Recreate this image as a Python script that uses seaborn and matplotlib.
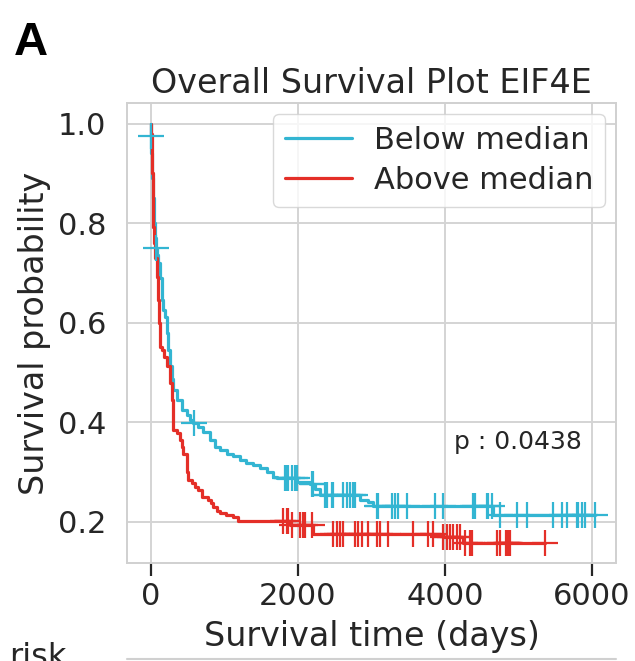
import numpy as np
import pandas as pd
import matplotlib
matplotlib.use("Agg")
import matplotlib.pyplot as plt
import seaborn as sns
from matplotlib.lines import Line2D

# ---------------- data ----------------
groups = ["Below median", "Above median"]
colors = ["#33b5d2", "#e42f28"]

blue_time = [0, 3, 10, 20, 30, 45, 60, 70, 85, 104, 126, 149, 171, 194, 217, 240,
             262, 285, 308, 353, 421, 489, 540, 580, 650, 715, 806, 874, 942, 1033,
             1123, 1214, 1300, 1395, 1486, 1577, 1667, 1713, 1990, 2160, 2230, 2302,
             2846, 2960, 3025, 4658, 6041]
blue_surv = [1.0, 0.976, 0.94, 0.89, 0.85, 0.80, 0.77, 0.75, 0.735, 0.72, 0.69, 0.646,
             0.626, 0.612, 0.579, 0.545, 0.512, 0.487, 0.465, 0.445, 0.425, 0.414, 0.405,
             0.399, 0.39, 0.381, 0.364, 0.351, 0.344, 0.337, 0.331, 0.324, 0.318, 0.314,
             0.307, 0.300, 0.290, 0.287, 0.280, 0.275, 0.265, 0.254, 0.244, 0.240, 0.2316,
             0.2135, 0.2135]
blue_censor = [5, 72, 589, 1826, 1849, 1871, 1917, 1962, 1985, 2189, 2211,
               2370, 2393, 2461, 2483, 2619, 2665, 2710, 2755, 2778, 3073, 3095, 3277,
               3322, 3367, 3481, 3865, 3979, 4386, 4409, 4568, 4591, 4636, 4750, 4976,
               5112, 5474, 5588, 5656, 5792, 5814, 5860, 5905, 6041]

red_time = [0, 5, 13, 20, 28, 36, 50, 65, 82, 104, 115, 126, 149, 180, 217, 262, 285,
            300, 308, 353, 398, 420, 444, 489, 500, 512, 557, 600, 648, 693, 784, 820,
            851, 900, 942, 1030, 1123, 1191, 1890, 2211, 3979, 4250, 5361]
red_surv = [1.0, 0.98, 0.95, 0.90, 0.85, 0.793, 0.76, 0.73, 0.692, 0.646, 0.60, 0.552,
            0.545, 0.53, 0.512, 0.478, 0.445, 0.41, 0.384, 0.378, 0.364, 0.35, 0.337,
            0.317, 0.30, 0.284, 0.277, 0.27, 0.264, 0.250, 0.244, 0.237, 0.230, 0.222,
            0.217, 0.213, 0.210, 0.202, 0.193, 0.175, 0.169, 0.157, 0.157]
red_censor = [1803, 1849, 1871, 1917, 2030, 2075, 2098, 2189, 2483, 2529,
              2574, 2619, 2778, 2823, 2869, 2959, 3073, 3118, 3231, 3571, 3775, 3842,
              3979, 4025, 4069, 4115, 4160, 4206, 4273, 4341, 4364, 4704, 4750, 4830,
              4845, 4860, 4875, 4890, 5361]

p_text = "p : 0.0438"
x_ticks = [0, 2000, 4000, 6000]
y_ticks = [0.2, 0.4, 0.6, 0.8, 1.0]

# ---------------- style ----------------
sns.set_theme(style="whitegrid")
plt.rcParams["font.family"] = ["DejaVu Sans"]
plt.rcParams["grid.color"] = "#d4d4d4"
plt.rcParams["grid.linewidth"] = 1.4
plt.rcParams["axes.edgecolor"] = "#d0d0d0"
plt.rcParams["axes.linewidth"] = 1.4

fig = plt.figure(figsize=(6.35, 6.61), dpi=100)
ax = fig.add_axes([0.2, 0.1483, 0.770, 0.696])


def step_lookup(times, surv, t):
    times = np.asarray(times)
    idx = np.searchsorted(times, t, side="right") - 1
    return np.asarray(surv)[idx]


series = [(blue_time, blue_surv, blue_censor), (red_time, red_surv, red_censor)]
for (g, c, (tt, ss, cc)) in zip(groups, colors, series):
    df = pd.DataFrame({"time": tt, "surv": ss})
    sns.lineplot(data=df, x="time", y="surv", ax=ax, color=c, lw=2.3,
                 drawstyle="steps-post", label=g, estimator=None, sort=False)
    cdf = pd.DataFrame({"time": cc, "surv": step_lookup(tt, ss, cc)})
    sns.scatterplot(data=cdf, x="time", y="surv", ax=ax, marker="+", s=330,
                    color=c, linewidth=1.6, legend=False, zorder=3)

ax.set_xlim(-322, 6326)
ax.set_ylim(0.117, 1.0416)
ax.set_xticks(x_ticks)
ax.set_xticklabels([str(v) for v in x_ticks])
ax.set_yticks(y_ticks)
ax.set_yticklabels([f"{v:.1f}" for v in y_ticks])
ax.tick_params(axis="x", labelsize=22, length=9, width=1.6, color="#262626",
               pad=5, bottom=True, colors="#262626")
ax.tick_params(axis="y", labelsize=22, length=0, pad=15, colors="#262626")
ax.set_xlabel("Survival time (days)", fontsize=24, color="#262626", labelpad=6)
ax.set_ylabel("Survival probability", fontsize=24, color="#262626", labelpad=5)
ax.set_title("Overall Survival Plot EIF4E", fontsize=24, color="#262626", pad=7)

leg = ax.legend(loc="upper right", fontsize=22, handlelength=2.2, frameon=True,
                borderaxespad=0.35, labelspacing=0.35, handletextpad=0.7)
leg.get_frame().set_edgecolor("#d0d0d0")
for line in leg.get_lines():
    line.set_linewidth(2.3)

ax.text(4130, 0.36, p_text, fontsize=18, color="#262626", ha="left", va="center")

# panel letter and the top of the at-risk table
fig.text(0.022, 0.9168, "A", fontsize=34, fontweight="bold",
         family=["Liberation Sans"], color="black", va="baseline", ha="left")
fig.text(0.015, -0.008, "risk", fontsize=23, color="#262626", va="baseline", ha="left")
fig.add_artist(Line2D([0.2, 0.97], [0.003, 0.003], transform=fig.transFigure,
                      color="#d0d0d0", lw=1.5))

fig.savefig("out.png", dpi=100)
